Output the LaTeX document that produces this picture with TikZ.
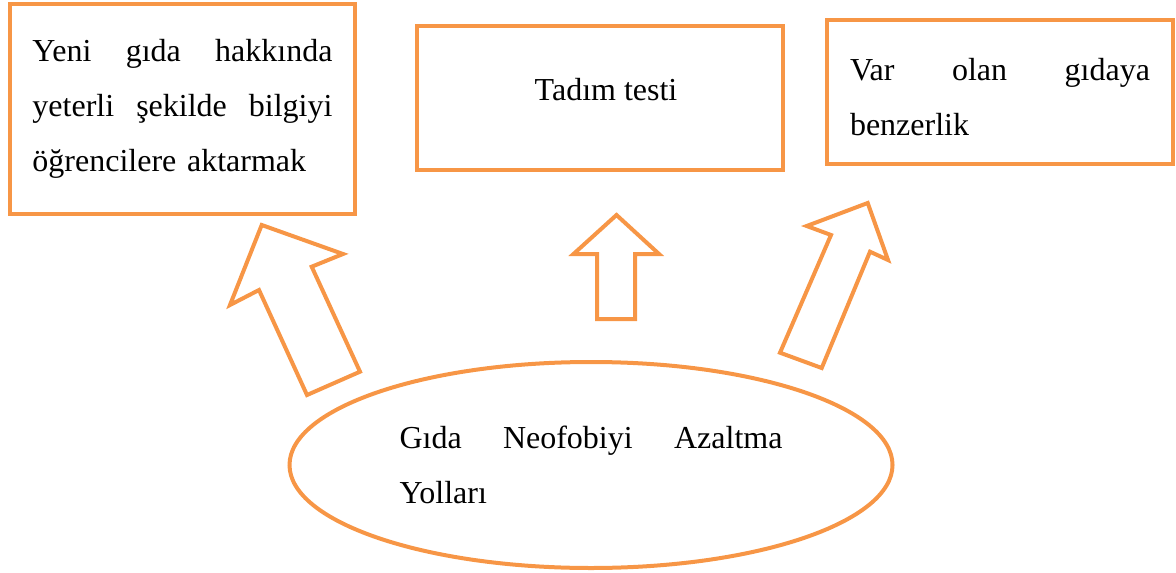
\documentclass[tikz,border=0pt]{standalone}
\usepackage{fontspec}
\setmainfont{Liberation Serif}
\usetikzlibrary{shapes.geometric}
\definecolor{turuncu}{RGB}{247,150,70}
\newcommand{\tamsatir}[2]{\leavevmode\hbox to #1{#2}}

\begin{document}
\begin{tikzpicture}[x=0.5pt,y=-0.5pt,
  kutu/.style={draw=turuncu,line width=2pt,inner sep=0pt,font=\fontsize{16pt}{27.5pt}\selectfont},
  blokok/.style={draw=turuncu,line width=2pt,line join=miter}]
\useasboundingbox (0,0) rectangle (1176,572);

% Boxes
\node[kutu,minimum width=172.5pt,minimum height=105pt,text width=150pt,align=left] (bilgi) at (182.5,109)
  {\tamsatir{150pt}{Yeni\hfill gıda\hfill hakkında}\\\tamsatir{150pt}{yeterli\hfill şekilde\hfill bilgiyi}\\öğrencilere aktarmak};
\node[kutu,minimum width=183pt,minimum height=72pt,text depth=9pt] (tadim) at (600,98) {\hspace{6pt}Tadım testi};
\node[kutu,minimum width=173pt,minimum height=72pt,text width=150pt,text height=16pt,align=left] (benzer) at (1000,92)
  {\tamsatir{150pt}{Var\hfill olan\hfill gıdaya}\\benzerlik};

% Ellipse
\node[kutu,ellipse,minimum width=301.5pt,minimum height=103pt,text width=191.5pt,align=left] (yollar) at (591,465)
  {\tamsatir{191.5pt}{Gıda\hfill Neofobiyi\hfill Azaltma}\\Yolları};

% Block arrows
\draw[blokok] (261.7,225) -- (343,254) -- (311.7,266.7) -- (360,371.7) -- (307,395) -- (259,290) -- (230,305) -- cycle;
\draw[blokok] (616.5,215) -- (659,254) -- (635,254) -- (635,319) -- (597,319) -- (597,254) -- (573.5,254) -- cycle;
\draw[blokok] (867.7,203) -- (888,260) -- (870,251.7) -- (821.7,368) -- (780,352.7) -- (831,235) -- (806.7,226) -- cycle;
\end{tikzpicture}
\end{document}
